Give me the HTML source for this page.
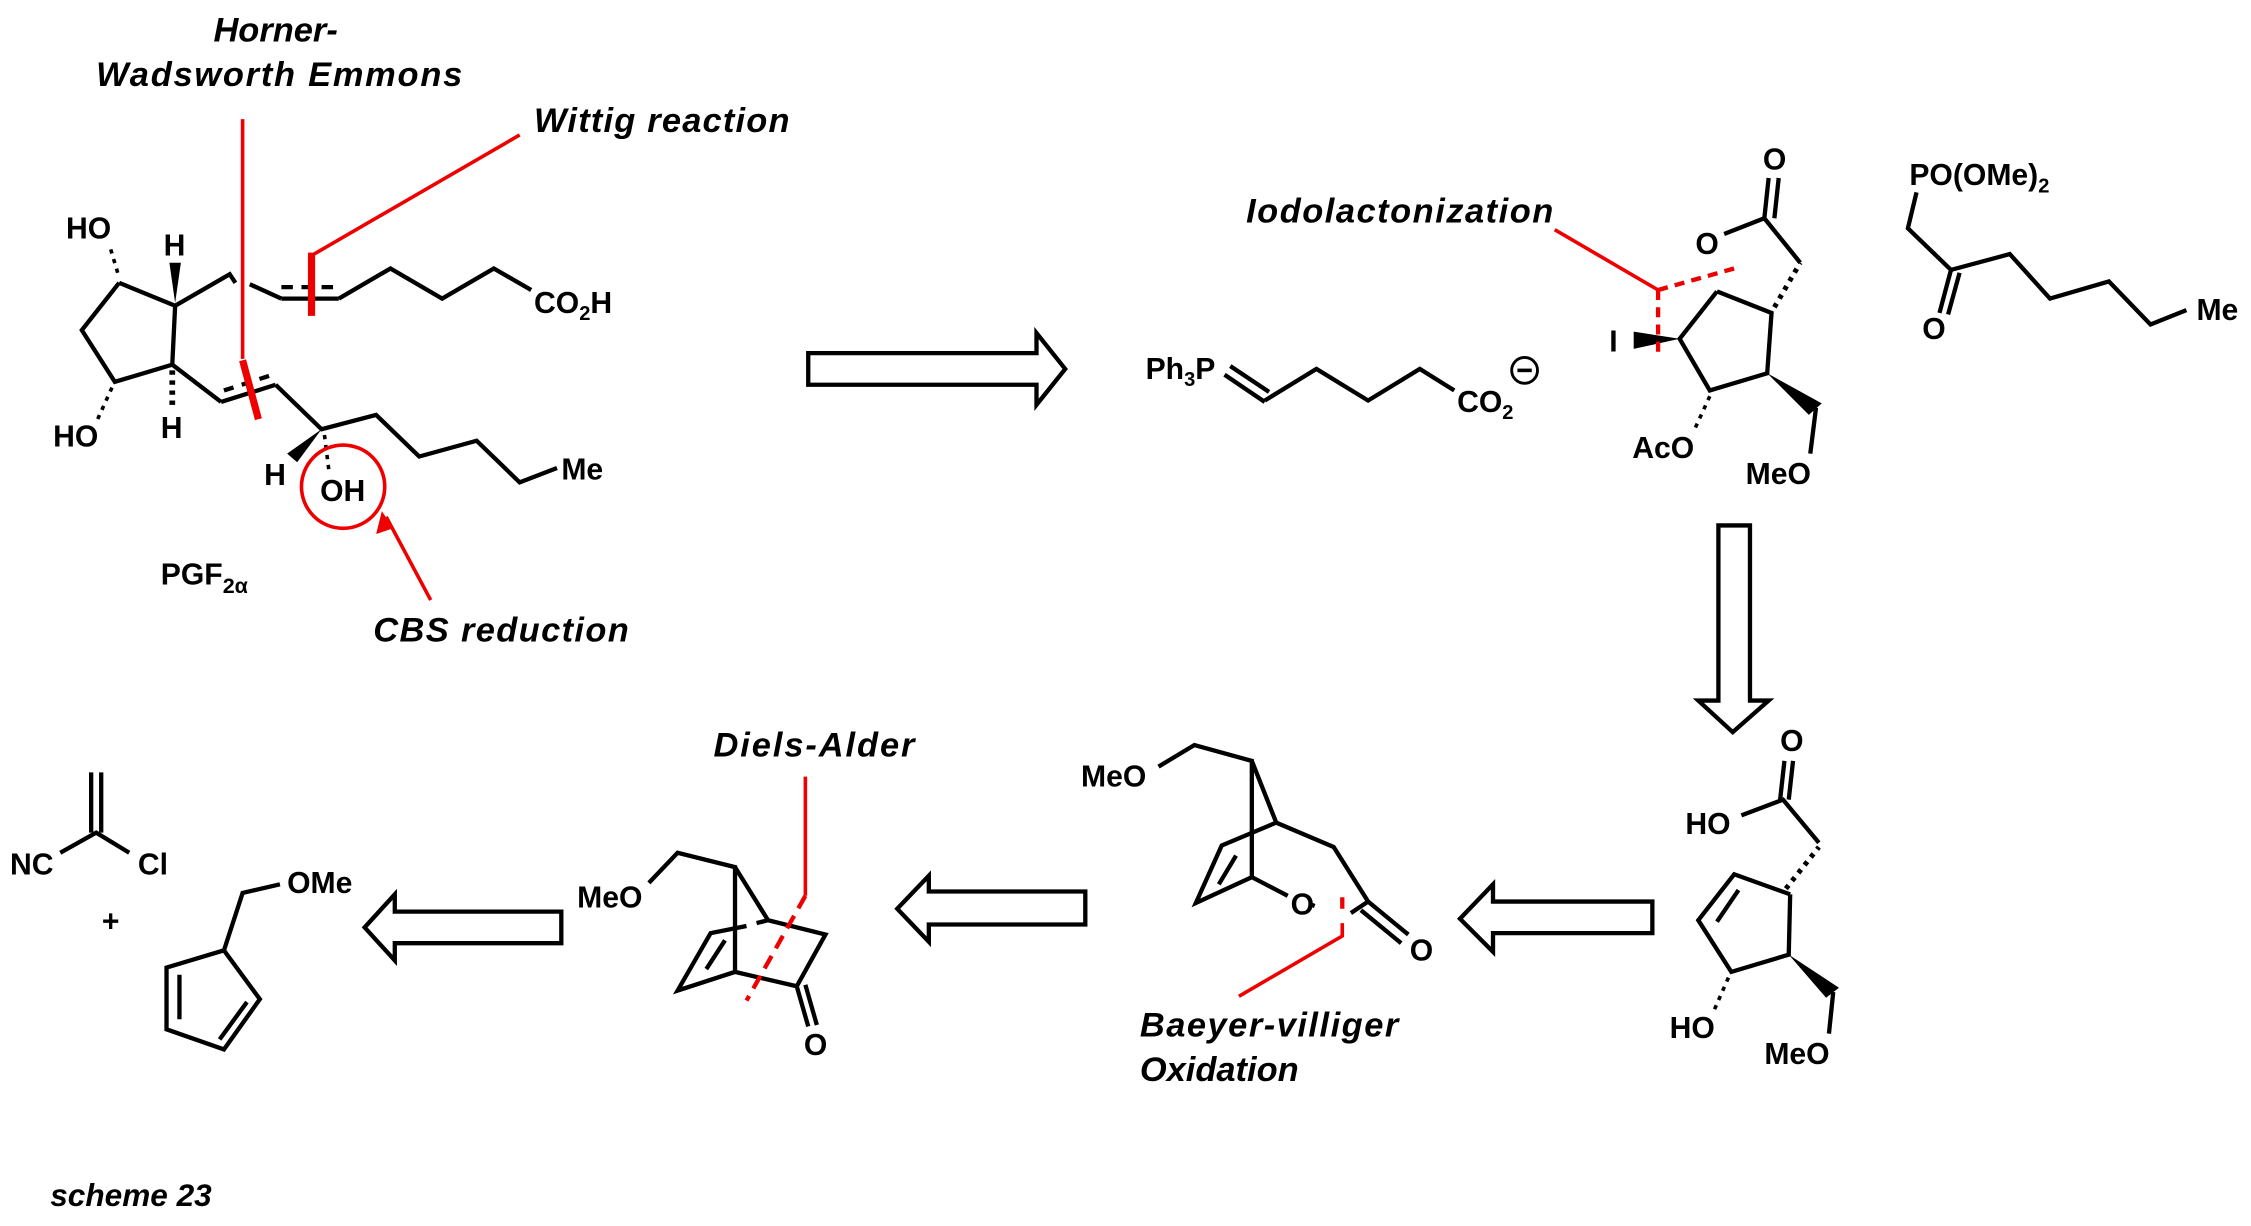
<!DOCTYPE html>
<html><head><meta charset="utf-8"><style>
html,body{margin:0;padding:0;background:#fff}
svg{display:block}
text{font-family:"Liberation Sans",Arial,sans-serif;font-weight:bold;fill:#000}
.l{font-style:italic;font-size:24px}
.c{font-size:21px}
</style></head><body>
<svg width="2251" height="1226" viewBox="0 0 1568 854" xmlns="http://www.w3.org/2000/svg">
<g fill="none" stroke="#000" stroke-width="3" stroke-linejoin="miter">
<polyline points="83,197 122,213 120,254 80,266 57,230 83,197"/>
<polyline points="122,213 160,191 164,197"/>
<polyline points="174,198 196,208"/>
<line x1="196" y1="208" x2="236" y2="208"/>
<line x1="196" y1="200" x2="236" y2="200" stroke-dasharray="8,6"/>
<polyline points="236,208 272,187 308,208 344,187 370,202"/>
<polyline points="120,254 154,280"/>
<line x1="154" y1="280" x2="192" y2="268"/>
<line x1="156" y1="272" x2="190" y2="261" stroke-dasharray="7,6"/>
<polyline points="192,268 224,299 262,289 292,318 332,307 362,336 388,326"/>
<g stroke-width="2.5">
<line x1="82" y1="190" x2="76" y2="170" stroke-dasharray="3,4"/>
<line x1="120" y1="258" x2="120" y2="285" stroke-dasharray="3,4" stroke-width="4"/>
<line x1="78" y1="270" x2="68" y2="292" stroke-dasharray="3,4"/>
<line x1="226" y1="303" x2="229" y2="327" stroke-dasharray="3,4"/>
<line x1="1191" y1="276" x2="1180" y2="300" stroke-dasharray="3,4"/>
<line x1="1236" y1="214" x2="1254" y2="183" stroke-dasharray="3,4" stroke-width="3.5"/>
<line x1="1244" y1="619" x2="1267" y2="590" stroke-dasharray="3,4" stroke-width="3.5"/>
<line x1="1204" y1="681" x2="1193" y2="706" stroke-dasharray="3,4"/>
</g>
<line x1="853" y1="261" x2="881" y2="280"/>
<line x1="857" y1="255" x2="884" y2="273"/>
<polyline points="881,279 917,257 953,279 989,257 1013,272"/>
<circle cx="1062" cy="258" r="9" stroke-width="2"/>
<line x1="1057" y1="258" x2="1067" y2="258" stroke-width="2.5"/>
<polyline points="1196,203 1234,218 1231,260 1191,272 1170,236 1196,203"/>
<polyline points="1201,163 1229,152 1254,183"/>
<line x1="1229" y1="152" x2="1232" y2="124"/>
<line x1="1236" y1="152" x2="1239" y2="124"/>
<polyline points="1335,134 1329,159 1359,188 1400,177 1428,208 1469,196 1498,226 1523,216"/>
<line x1="1359" y1="188" x2="1351" y2="218"/>
<line x1="1365" y1="190" x2="1357" y2="219"/>
<line x1="1265" y1="284" x2="1261" y2="316"/>
<polygon points="563,246 722,246 722,232 742,257 722,282 722,268 563,268"/>
<polygon points="1197,366 1219,366 1219,488 1232,488 1207,510 1183,488 1197,488"/>
<polygon points="1151,628 1040,628 1040,616 1017,640 1040,663 1040,650 1151,650"/>
<polygon points="756,621 647,621 647,610 625,633 647,656 647,644 756,644"/>
<polygon points="391,635 275,635 275,623 254,646 275,669 275,657 391,657"/>
<line x1="1240" y1="557" x2="1243" y2="530"/>
<line x1="1246" y1="557" x2="1249" y2="530"/>
<polyline points="1213,568 1242,557 1267,587"/>
<polyline points="1247,623 1208,609 1183,641 1206,677 1246,665 1247,623"/>
<line x1="1211" y1="620" x2="1196" y2="642"/>
<line x1="1277" y1="691" x2="1274" y2="720"/>
<polyline points="807,534 832,519 872,530 872,611"/>
<polyline points="872,530 889,573 851,589 833,629 872,611 897,624"/>
<line x1="861" y1="596" x2="849" y2="616"/>
<polyline points="889,573 929,590 953,628 941,636"/>
<line x1="953" y1="628" x2="981" y2="651"/>
<line x1="948" y1="634" x2="976" y2="657"/>
<line x1="913" y1="630" x2="918" y2="632" stroke-dasharray="3,3"/>
<polyline points="452,615 472,594 512,604 512,677"/>
<polyline points="512,604 535,641 575,651 555,687 512,677 472,690 495,650 520,645"/>
<line x1="527" y1="643" x2="535" y2="641"/>
<line x1="505" y1="655" x2="492" y2="675"/>
<line x1="555" y1="687" x2="563" y2="715"/>
<line x1="561" y1="686" x2="569" y2="714"/>
<polyline points="195,616 169,622 156,662 116,674 116,717 156,731 181,696 156,662"/>
<line x1="125" y1="679" x2="125" y2="710"/>
<line x1="172" y1="698" x2="153" y2="724"/>
<line x1="63.5" y1="538" x2="63.5" y2="580"/>
<line x1="70.5" y1="538" x2="70.5" y2="580"/>
<polyline points="42,594 67,580 90,594"/>
</g>
<g fill="#000">
<polygon points="122,211 118,183 126,183"/>
<polygon points="224,299 200,316 207,322"/>
<polygon points="1170,236 1138,231 1138,243"/>
<polygon points="1231,260 1260,289 1269,281"/>
<polygon points="1246,665 1272,695 1281,688"/>
</g>
<g fill="none" stroke="#e00" stroke-width="2.5">
<polyline points="362,94 217,178"/>
<line x1="217" y1="176" x2="217" y2="220" stroke-width="5"/>
<line x1="169" y1="83" x2="169" y2="250"/>
<line x1="169" y1="251" x2="180" y2="292" stroke-width="5"/>
<circle cx="239" cy="339" r="29"/>
<line x1="300" y1="418" x2="269" y2="360"/>
<polyline points="1083,160 1155,202"/>
<line x1="1155" y1="202" x2="1208" y2="187" stroke-dasharray="7,5" stroke-width="3"/>
<line x1="1155" y1="202" x2="1155" y2="247" stroke-dasharray="7,5" stroke-width="3"/>
<line x1="561" y1="541" x2="561" y2="624"/>
<line x1="561" y1="624" x2="520" y2="697" stroke-dasharray="10,6" stroke-width="3"/>
<line x1="935" y1="625" x2="935" y2="633" stroke-width="3"/>
<polyline points="935,643 935,652 863,694"/>
</g>
<polygon points="266,356 262,372 274,368" fill="#e00"/>
<text class="l" x="192" y="29" text-anchor="middle">Horner-</text>
<text class="l" x="67" y="60" textLength="255">Wadsworth Emmons</text>
<text class="l" x="372" y="92" textLength="178">Wittig reaction</text>
<text class="l" x="868" y="155" textLength="214">Iodolactonization</text>
<text class="l" x="260" y="447" textLength="178">CBS reduction</text>
<text class="l" x="497" y="527" textLength="140">Diels-Alder</text>
<text class="l" x="794" y="722" textLength="180">Baeyer-villiger</text>
<text class="l" x="794" y="753">Oxidation</text>
<text class="l" x="35" y="840" style="font-size:22px">scheme 23</text>
<g>
<text class="c" x="46" y="166">HO</text>
<text class="c" x="114" y="178">H</text>
<text class="c" x="372" y="218">CO<tspan font-size="14" dy="5">2</tspan><tspan dy="-5">H</tspan></text>
<text class="c" x="37" y="311">HO</text>
<text class="c" x="112" y="305">H</text>
<text class="c" x="184" y="338">H</text>
<text class="c" x="223" y="349">OH</text>
<text class="c" x="391" y="334">Me</text>
<text class="c" x="112" y="407">PGF<tspan font-size="15" dy="6">2α</tspan></text>
<text class="c" x="798" y="264">Ph<tspan font-size="14" dy="5">3</tspan><tspan dy="-5">P</tspan></text>
<text class="c" x="1015" y="287">CO<tspan font-size="14" dy="5">2</tspan></text>
<text class="c" x="1228" y="118">O</text>
<text class="c" x="1181" y="177">O</text>
<text class="c" x="1121" y="245">I</text>
<text class="c" x="1137" y="319">AcO</text>
<text class="c" x="1216" y="337">MeO</text>
<text class="c" x="1330" y="129">PO(OMe)<tspan font-size="14" dy="5">2</tspan></text>
<text class="c" x="1339" y="236">O</text>
<text class="c" x="1530" y="223">Me</text>
<text class="c" x="1240" y="523">O</text>
<text class="c" x="1174" y="581">HO</text>
<text class="c" x="1163" y="723">HO</text>
<text class="c" x="1229" y="741">MeO</text>
<text class="c" x="753" y="548">MeO</text>
<text class="c" x="899" y="637">O</text>
<text class="c" x="982" y="669">O</text>
<text class="c" x="402" y="632">MeO</text>
<text class="c" x="560" y="735">O</text>
<text class="c" x="200" y="622">OMe</text>
<text class="c" x="7" y="609">NC</text>
<text class="c" x="96" y="609">Cl</text>
<text class="c" x="71" y="649">+</text>
</g>
</svg>
</body></html>
